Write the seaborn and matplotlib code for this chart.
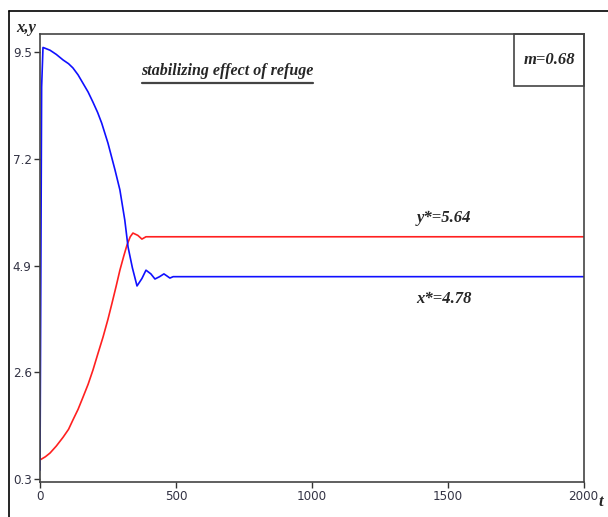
import matplotlib
matplotlib.use("Agg")
import matplotlib.pyplot as plt
import seaborn as sns
import pandas as pd
from matplotlib.lines import Line2D
from matplotlib import font_manager

sns.set_theme(style="white")
plt.rcParams['font.family'] = ['Liberation Serif', 'DejaVu Sans']

# prey x(t) (blue)
t_x = [0, 6, 11, 20, 37, 60, 85, 105, 121, 140, 158, 177, 195, 212, 227, 250, 276, 294, 312, 324, 340, 357,
       375, 390, 408, 423, 440, 456, 466, 478, 490, 2000]
x_vals = [0.49, 8.75, 9.6, 9.58, 9.54, 9.45, 9.33, 9.25, 9.16, 9.01, 8.83, 8.64, 8.42, 8.20, 7.97, 7.54, 6.96, 6.53, 5.88, 5.30, 4.85, 4.46,
          4.62, 4.80, 4.72, 4.61, 4.66, 4.72, 4.68, 4.63, 4.66, 4.66]

# predator y(t) (red)
t_y = [0, 20, 37, 60, 85, 105, 121, 140, 158, 177, 195, 212, 232, 250, 265, 280, 294, 308, 320, 332, 342, 360, 375, 390, 2000]
y_vals = [0.71, 0.78, 0.86, 1.01, 1.20, 1.37, 1.57, 1.80, 2.06, 2.34, 2.65, 2.98, 3.36, 3.74, 4.09, 4.45, 4.80, 5.10, 5.34, 5.52, 5.60, 5.55, 5.47, 5.52, 5.52]

y_ticks = [0.3, 2.6, 4.9, 7.2, 9.5]
x_ticks = [0, 500, 1000, 1500, 2000]

df_x = pd.DataFrame({"t": t_x, "v": x_vals})
df_y = pd.DataFrame({"t": t_y, "v": y_vals})

fig = plt.figure(figsize=(6.08, 5.17), dpi=100)
ax = fig.add_axes([40/608, 35/517, 543.5/608, 448/517])

sns.lineplot(data=df_y, x="t", y="v", ax=ax, color="#ff2020", lw=1.2, sort=False)
sns.lineplot(data=df_x, x="t", y="v", ax=ax, color="#1010ff", lw=1.2, sort=False)

ax.set_xlim(0, 2000)
ax.set_ylim(0.235, 9.89)
ax.set_xticks(x_ticks)
ax.set_yticks(y_ticks)
ax.set_xticklabels([str(v) for v in x_ticks])
ax.set_yticklabels([f"{v:.1f}" for v in y_ticks])
ax.set_xlabel("")
ax.set_ylabel("")
ax.tick_params(axis="both", direction="out", length=4, width=1, color="#333333",
               labelsize=10, labelcolor="#333344", left=True, bottom=True, pad=2)
for sp in ax.spines.values():
    sp.set_color("#444444")
    sp.set_linewidth(1.2)

# narrow font for tick labels if available
tick_fp = font_manager.FontProperties(family=['DejaVu Sans'], stretch='condensed', size=9.5)
for lbl in ax.get_xticklabels() + ax.get_yticklabels():
    lbl.set_fontproperties(tick_fp)
    lbl.set_color("#333344")

# title-like annotation, underlined
fig.text(227/608, 1 - 71/517, "stabilizing effect of refuge", ha="center", va="center",
         fontsize=11.5, fontweight="bold", fontstyle="italic")
fig.add_artist(Line2D([142/608, 313/608], [1 - 83/517, 1 - 83/517], color="#444444", lw=1.6))

# m box
fig.add_artist(plt.Rectangle((514/608, 1 - 86/517), 70/608, 52/517, fill=False,
                             edgecolor="#444444", lw=1.2))
fig.text(549/608, 1 - 60/517, "m=0.68", ha="center", va="center", fontsize=12,
         fontweight="bold", fontstyle="italic")

fig.text(444/608, 1 - 218/517, "y*=5.64", ha="center", va="center", fontsize=12,
         fontweight="bold", fontstyle="italic")
fig.text(444/608, 1 - 299/517, "x*=4.78", ha="center", va="center", fontsize=12,
         fontweight="bold", fontstyle="italic")
fig.text(26/608, 1 - 28/517, "x,y", ha="center", va="center", fontsize=12,
         fontweight="bold", fontstyle="italic")
fig.text(601/608, 1 - 502/517, "t", ha="center", va="center", fontsize=12,
         fontweight="bold", fontstyle="italic")

# outer frame (left and top edges)
fig.add_artist(Line2D([9/608, 9/608], [0, 1 - 11/517], color="black", lw=1.2))
fig.add_artist(Line2D([9/608, 1], [1 - 11/517, 1 - 11/517], color="black", lw=1.2))

fig.savefig("out.png", dpi=100)
